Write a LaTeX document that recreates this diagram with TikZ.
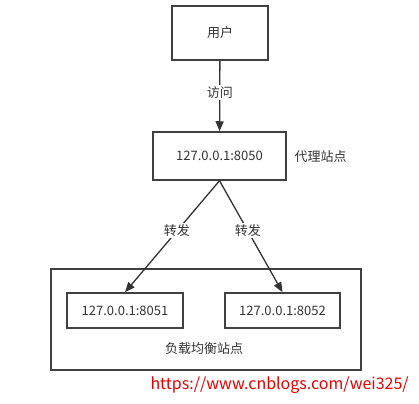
\documentclass[tikz,border=0pt]{standalone}
\usepackage{fontspec}
\setmainfont{Noto Sans CJK SC}
\usepackage{tikz}
\usetikzlibrary{arrows.meta}
\usetikzlibrary{calc}

\begin{document}
\begin{tikzpicture}[x=1pt, y=-1pt, auto,
        box_style/.style={draw=black!75, line width=1.5pt, fill=white, text=black!80, font=\fontsize{13}{15}\selectfont, inner sep=0pt},
        label_style/.style={text=black!80, font=\fontsize{13}{15}\selectfont, fill=white, inner sep=1.5pt},
        edge_style/.style={draw=black!80, line width=1.3pt, -{Triangle[length=10pt, width=8pt]}}]

        \useasboundingbox (0,0) rectangle (419,403);

        \node [box_style, minimum width=310pt, minimum height=101pt](lb) at (206,319.5) {};

        \node [box_style, minimum width=96pt, minimum height=54pt](user) at (220,33) {用户};

        \node [box_style, minimum width=133pt, minimum height=48pt](proxy) at (219.5,156) {127.0.0.1:8050};

        \node [box_style, minimum width=116pt, minimum height=35pt](s1) at (125,310.5) {127.0.0.1:8051};

        \node [box_style, minimum width=115pt, minimum height=35pt](s2) at (282.5,310.5) {127.0.0.1:8052};

        \node [text=black!80, font=\fontsize{13}{15}\selectfont, anchor=west] at (291,157) {代理站点};

        \node [text=black!80, font=\fontsize{13}{15}\selectfont] at (204,349) {负载均衡站点};

        \draw [edge_style] (user) -- node[label_style, pos=0.45, anchor=center]{访问} (proxy);

        \draw [edge_style] (proxy.south) -- node[label_style, pos=0.45, anchor=center]{转发} (s1.north);

        \draw [edge_style] (proxy.south) -- node[label_style, pos=0.45, anchor=center]{转发} (s2.north);

        \node [text=red!90!black, font=\fontsize{16}{18}\selectfont, anchor=west] at (147,385) {https://www.cnblogs.com/wei325/};

        \end{tikzpicture}
\end{document}
